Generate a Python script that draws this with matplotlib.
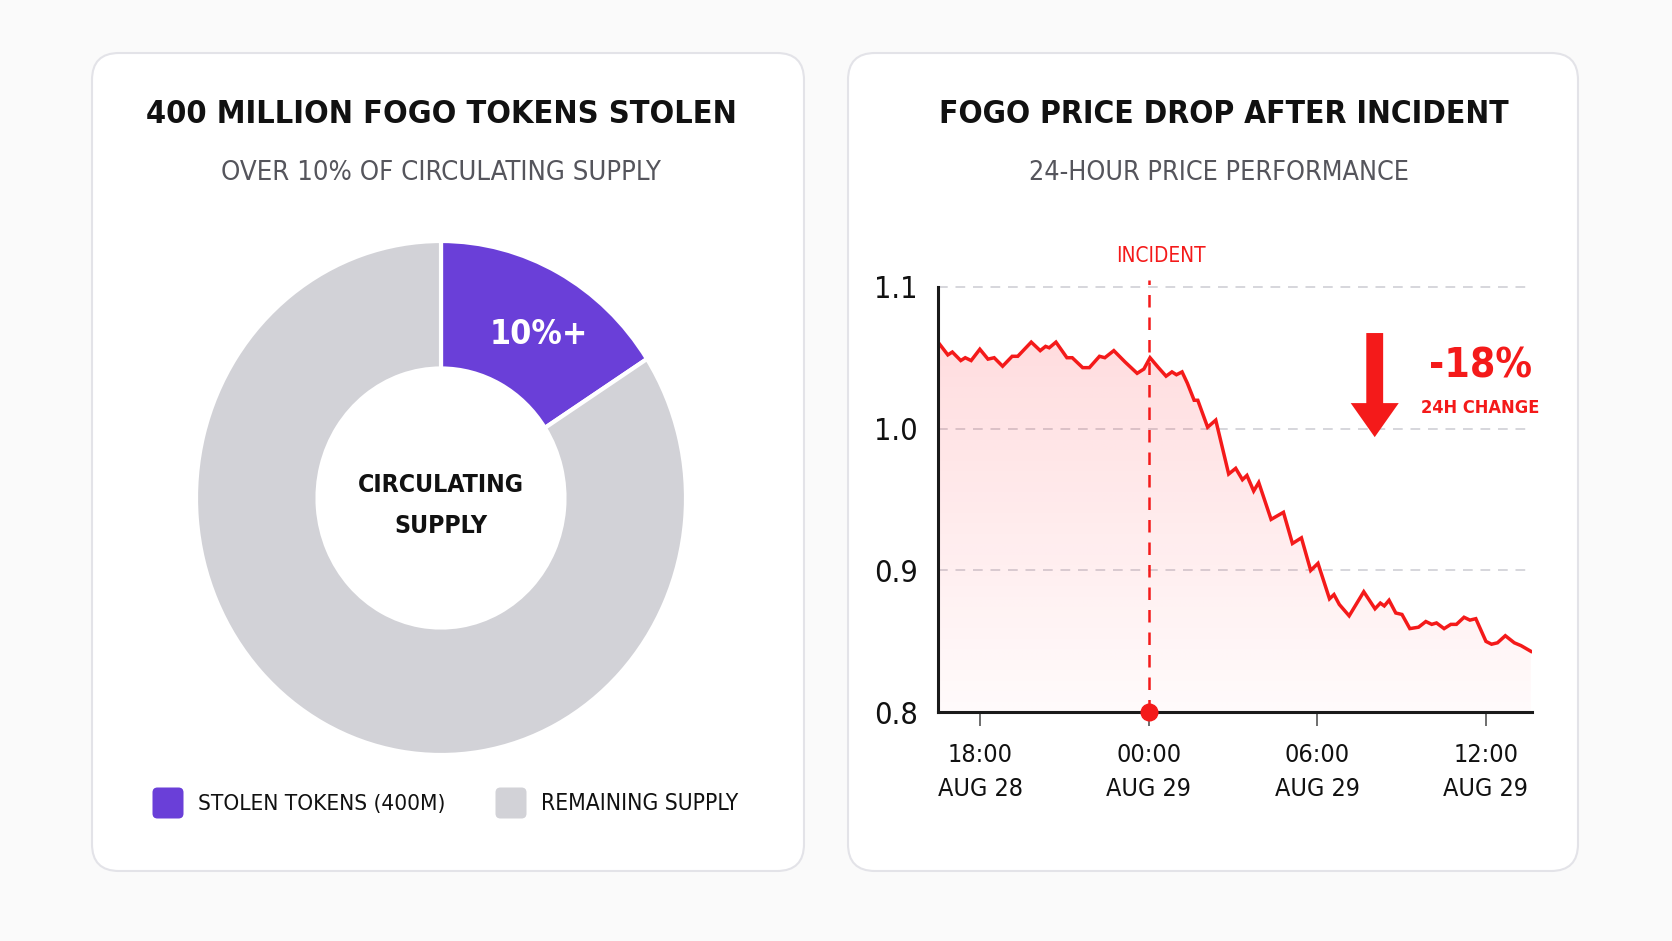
import matplotlib
matplotlib.use('Agg')
import matplotlib.pyplot as plt
import numpy as np
from matplotlib import font_manager
from matplotlib.patches import FancyBboxPatch, FancyArrow

# ---- data: left donut ----
supply_labels = ['STOLEN TOKENS (400M)', 'REMAINING SUPPLY']
supply_share = [15.9, 84.1]
stolen_label = '10%+'

# ---- data: right price line (hours relative to 00:00 Aug 29, price) ----
hours = [-7.50, -7.15, -6.99, -6.69, -6.53, -6.32, -6.01, -5.72, -5.50, -5.20,
         -4.86, -4.66, -4.18, -3.86, -3.67, -3.54, -3.30, -2.91, -2.72, -2.35,
         -2.11, -1.75, -1.56, -1.24, -0.84, -0.41, -0.17, 0.05, 0.35, 0.62,
         0.83, 0.99, 1.19, 1.38, 1.62, 1.75, 2.10, 2.39, 2.85, 3.10,
         3.34, 3.50, 3.74, 3.92, 4.36, 4.80, 5.12, 5.44, 5.77, 6.03,
         6.44, 6.60, 6.79, 7.14, 7.66, 8.06, 8.25, 8.39, 8.56, 8.80,
         9.02, 9.30, 9.61, 9.87, 10.08, 10.25, 10.52, 10.76, 10.96, 11.23,
         11.44, 11.65, 12.01, 12.21, 12.42, 12.70, 13.02, 13.26, 13.61]
price = [1.061, 1.052, 1.054, 1.048, 1.050, 1.048, 1.056, 1.049, 1.050, 1.044,
         1.051, 1.051, 1.061, 1.055, 1.058, 1.057, 1.061, 1.050, 1.050, 1.043,
         1.043, 1.051, 1.050, 1.055, 1.047, 1.039, 1.042, 1.050, 1.043, 1.037,
         1.040, 1.038, 1.040, 1.032, 1.020, 1.020, 1.001, 1.006, 0.968, 0.972,
         0.964, 0.967, 0.956, 0.962, 0.936, 0.941, 0.919, 0.923, 0.900, 0.905,
         0.880, 0.883, 0.876, 0.868, 0.885, 0.873, 0.877, 0.875, 0.879, 0.870,
         0.869, 0.859, 0.860, 0.864, 0.862, 0.863, 0.859, 0.862, 0.862, 0.867,
         0.865, 0.866, 0.850, 0.848, 0.849, 0.854, 0.849, 0.847, 0.843]
incident_hour = 0.0
x_ticks = [-6, 0, 6, 12]
x_ticklabels = ['18:00\nAUG 28', '00:00\nAUG 29', '06:00\nAUG 29', '12:00\nAUG 29']
y_ticks = [0.8, 0.9, 1.0, 1.1]
y_ticklabels = ['0.8', '0.9', '1.0', '1.1']
change_text = '-18%'

PURPLE = '#6A3FD8'
GRAY = '#D2D2D7'
RED = '#F41A1A'
INK = '#111111'

# pick the narrowest font we have
names = {f.name for f in font_manager.fontManager.ttflist}
if 'Liberation Sans Narrow' in names:
    COND = dict(family='Liberation Sans Narrow')
elif any(f.name == 'DejaVu Sans' and str(f.stretch) == 'condensed'
         for f in font_manager.fontManager.ttflist):
    COND = dict(family='DejaVu Sans', stretch='condensed')
else:
    COND = dict(family='Roboto')

W, H = 1672, 941
fig = plt.figure(figsize=(W / 100, H / 100), dpi=100)
fig.patch.set_facecolor('#FAFAFA')

# background axes in pixel coords (y down)
bg = fig.add_axes([0, 0, 1, 1], zorder=0)
bg.set_xlim(0, W)
bg.set_ylim(H, 0)
bg.axis('off')

for x0, w in [(92, 712), (848, 730)]:
    bg.add_patch(FancyBboxPatch((x0, 53), w, 818,
                                boxstyle='round,pad=0,rounding_size=27',
                                fc='white', ec='#E3E3E8', lw=1.5))

renderer = fig.canvas.get_renderer()


def fit(t, width_px):
    w = t.get_window_extent(renderer).width
    t.set_fontsize(t.get_fontsize() * width_px / w)
    return t


def label(x, y, s, width_px, ha='center', color=INK, weight='normal', ax=None, **kw):
    a = bg if ax is None else ax
    t = a.text(x, y, s, ha=ha, va='center', color=color, fontweight=weight,
               fontsize=20, **COND, **kw)
    return fit(t, width_px)


# titles
label(441, 114, '400 MILLION FOGO TOKENS STOLEN', 589, weight='bold')
label(441, 173, 'OVER 10% OF CIRCULATING SUPPLY', 440, color='#55555C')
label(1224, 114, 'FOGO PRICE DROP AFTER INCIDENT', 568, weight='bold')
label(1219, 173, '24-HOUR PRICE PERFORMANCE', 381, color='#55555C')

# ---- donut (slightly taller than wide, as in the reference) ----
cx, cy, rx, ry = 441, 498, 245, 257
axd = fig.add_axes([(cx - rx) / W, 1 - (cy + ry) / H, 2 * rx / W, 2 * ry / H], zorder=2)
axd.pie(supply_share, colors=[PURPLE, GRAY], startangle=90, counterclock=False,
        radius=1, wedgeprops=dict(width=0.496, edgecolor='white', linewidth=3))
axd.set_xlim(-1, 1)
axd.set_ylim(-1, 1)
axd.set_aspect('auto')
axd.patch.set_alpha(0)
t = axd.text(0.40, 0.635, stolen_label, ha='center', va='center', color='white',
             fontweight='bold', fontsize=30, **COND)
fit(t, 98)
t1 = axd.text(0, 0.05, 'CIRCULATING', ha='center', va='center', color=INK,
              fontweight='bold', fontsize=24, **COND)
fit(t1, 166)
axd.text(0, -0.11, 'SUPPLY', ha='center', va='center', color=INK,
         fontweight='bold', fontsize=t1.get_fontsize(), **COND)

# legend
bg.add_patch(FancyBboxPatch((154, 789), 28, 28, boxstyle='round,pad=1.5,rounding_size=5',
                            fc=PURPLE, ec='none'))
bg.add_patch(FancyBboxPatch((497, 789), 28, 28, boxstyle='round,pad=1.5,rounding_size=5',
                            fc=GRAY, ec='none'))
label(198, 804, supply_labels[0], 247, ha='left')
label(541, 804, supply_labels[1], 198, ha='left')

# ---- price chart ----
x0, x1, ytop, ybot = 938, 1532, 286.8, 712.3
ax = fig.add_axes([x0 / W, 1 - ybot / H, (x1 - x0) / W, (ybot - ytop) / H], zorder=3)
ax.patch.set_alpha(0)
xmin, xmax = -7.5, 13.65

for g in [0.9, 1.0, 1.1]:
    ax.axhline(g, color='#D6D6DC', lw=1.4, ls=(0, (5, 4)), zorder=0.5, clip_on=False)

# gradient fill under the line
ny = 256
alpha = np.linspace(0.02, 0.16, ny).reshape(-1, 1)
img = np.zeros((ny, 2, 4))
img[..., 0] = 1.0
img[..., 1] = 0.15
img[..., 2] = 0.2
img[..., 3] = alpha
im = ax.imshow(img, extent=[xmin, xmax, 0.8, 1.065], origin='lower', aspect='auto',
               zorder=1, interpolation='bilinear')
poly = ax.fill_between(hours, price, 0.8, color='none', lw=0)
im.set_clip_path(poly.get_paths()[0], transform=ax.transData)

ax.plot(hours, price, color=RED, lw=2.5, zorder=3, solid_joinstyle='miter')

# incident marker
ax.plot([incident_hour, incident_hour], [0.8, 1.105], color=RED, lw=1.8,
        ls=(0, (5, 4)), zorder=4, clip_on=False)
ax.plot(incident_hour, 0.8, 'o', ms=12, color=RED, zorder=6, clip_on=False)
t = ax.text(0.45, 1.122, 'INCIDENT', ha='center', va='center', color=RED,
            fontsize=16, **COND)
fit(t, 90)

# drop arrow
ax.add_patch(FancyArrow(8.05, 1.0674, 0, -0.0734, width=0.6, head_width=1.71,
                        head_length=0.024, length_includes_head=True,
                        color=RED, lw=0, zorder=5))
label(1532, 366, change_text, 103, ha='right', color=RED, weight='bold')
label(1480, 408, '24H CHANGE', 118, color=RED, weight='bold')

ax.set_xlim(xmin, xmax)
ax.set_ylim(0.8, 1.1)
ax.set_xticks(x_ticks)
ax.set_xticklabels(x_ticklabels, fontsize=18, color=INK, linespacing=1.55, **COND)
ax.set_yticks(y_ticks)
ax.set_yticklabels(y_ticklabels, fontsize=22, color=INK, **COND)
ax.tick_params(axis='x', length=10, width=1.2, color='#555555', pad=12)
ax.tick_params(axis='y', length=0, pad=14.5)
for s in ['top', 'right']:
    ax.spines[s].set_visible(False)
for s in ['left', 'bottom']:
    ax.spines[s].set_color('#1A1A1A')
    ax.spines[s].set_linewidth(2.2)
    ax.spines[s].set_zorder(5)

fig.savefig('out.png', dpi=100, facecolor=fig.get_facecolor())
